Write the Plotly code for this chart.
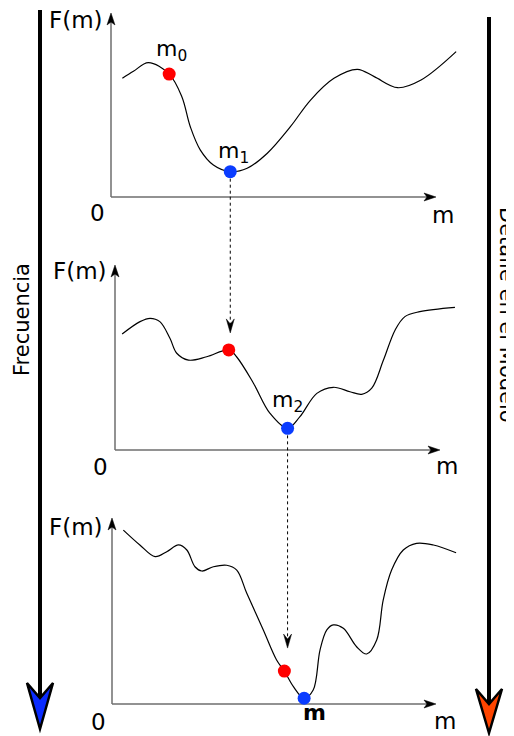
import plotly.graph_objects as go

# The page body keeps an 8px margin, so the figure is drawn 8px smaller and
# all page positions are shifted by that amount.
PAGE_W, PAGE_H = 514, 736
OFF = 8
W, H = PAGE_W - OFF, PAGE_H - OFF

# ---------------- data (schematic units: m in 0..10, F in 0..10) ----------------
M1 = [0.35, 0.69, 1.15, 1.79, 2.18, 2.44, 2.75, 3.15, 3.67, 4.19, 4.81, 5.52, 6.14,
      6.86, 7.58, 8.10, 8.82, 9.54, 10.62]
F1 = [6.45, 6.83, 7.30, 6.68, 5.45, 3.82, 2.55, 1.74, 1.375, 1.56, 2.38, 3.82, 5.27,
      6.45, 6.94, 6.54, 5.94, 6.36, 7.90]

M2 = [0.22, 0.77, 1.08, 1.38, 1.69, 1.90, 2.26, 2.82, 3.50, 3.74, 4.26, 4.77, 5.31,
      5.69, 6.21, 6.72, 7.23, 7.59, 7.90, 8.26, 8.62, 8.92, 9.38, 10.46]
F2 = [6.27, 6.94, 7.12, 6.94, 6.04, 5.23, 4.86, 5.04, 5.41, 5.04, 3.61, 1.98, 1.17,
      1.80, 3.06, 3.39, 3.15, 3.01, 3.34, 4.86, 6.49, 7.21, 7.48, 7.71]

M3 = [0.35, 0.86, 1.33, 1.69, 2.05, 2.31, 2.56, 2.77, 3.13, 3.54, 3.85, 4.16, 4.67,
      5.08, 5.32, 5.60, 5.93, 6.21, 6.42, 6.63, 6.83, 7.14, 7.55, 7.86, 8.17, 8.37,
      8.63, 8.99, 9.40, 9.92, 10.62]
F3 = [9.35, 8.55, 7.92, 8.19, 8.55, 8.28, 7.38, 7.15, 7.38, 7.46, 7.20, 5.95, 3.98,
      2.37, 1.77, 0.93, 0.31, 0.75, 2.90, 3.98, 4.25, 4.07, 3.08, 2.69, 3.44, 5.59,
      7.20, 8.28, 8.64, 8.55, 8.13]

START_M = [1.79, 3.50, 5.32]
START_F = [6.68, 5.41, 1.77]
BEST_M = [3.67, 5.31, 5.93]
BEST_F = [1.375, 1.17, 0.31]

POINT_LABELS = ["m<sub>0</sub>", "m<sub>1</sub>", "m<sub>2</sub>", "<b>m</b>"]
AXIS_Y_LABEL = "F(m)"
AXIS_X_LABEL = "m"
ORIGIN_LABEL = "0"
LEFT_TITLE = "Frecuencia"
RIGHT_TITLE = "Detalle en el Modelo"

CURVES = [(M1, F1), (M2, F2), (M3, F3)]

# ---------------- layout geometry (page pixels) ----------------
PANELS = [
    dict(ox=111, oy=197, sx=32.5, sy=18.4),
    dict(ox=115, oy=450, sx=32.5, sy=18.5),
    dict(ox=112, oy=704, sx=32.4, sy=18.6),
]
X_RANGE = [-0.6, 11.0]
Y_RANGE = [-1.2, 10.2]
AXIS_END = 10
FONT = "DejaVu Sans"


def pxp(x):
    return (x - OFF) / W


def pyp(y):
    return 1 - (y - OFF) / H


def to_page(i, m, f):
    p = PANELS[i]
    return p["ox"] + m * p["sx"], p["oy"] - f * p["sy"]


def path(points):
    pts = [f"{pxp(x):.5f},{pyp(y):.5f}" for x, y in points]
    return "M " + " L ".join(pts) + " Z"


def head(tipx, tipy, dx, dy, length=12, half=4, notch=9):
    # stealth arrow head pointing along unit (dx, dy)
    nx, ny = -dy, dx
    bx, by = tipx - dx * length, tipy - dy * length
    return [(bx + nx * half, by + ny * half), (tipx, tipy),
            (bx - nx * half, by - ny * half), (tipx - dx * notch, tipy - dy * notch)]


fig = go.Figure()
layout_axes = {}
shapes = []
annotations = []

for i, (m, f) in enumerate(CURVES):
    s = "" if i == 0 else str(i + 1)
    p = PANELS[i]
    xd = [pxp(p["ox"] + X_RANGE[0] * p["sx"]), pxp(p["ox"] + X_RANGE[1] * p["sx"])]
    yd = [pyp(p["oy"] - Y_RANGE[0] * p["sy"]), pyp(p["oy"] - Y_RANGE[1] * p["sy"])]
    layout_axes["xaxis" + s] = dict(domain=xd, range=X_RANGE, visible=False,
                                    anchor="y" + s, fixedrange=True)
    layout_axes["yaxis" + s] = dict(domain=yd, range=Y_RANGE, visible=False,
                                    anchor="x" + s, fixedrange=True)

    fig.add_trace(go.Scatter(
        x=m, y=f, mode="lines", xaxis="x" + s, yaxis="y" + s,
        line=dict(color="black", width=1.2, shape="spline", smoothing=1.0),
        hoverinfo="skip", showlegend=False))
    fig.add_trace(go.Scatter(
        x=[START_M[i]], y=[START_F[i]], mode="markers", xaxis="x" + s, yaxis="y" + s,
        marker=dict(color="#ff0000", size=13, line=dict(width=0)),
        hoverinfo="skip", showlegend=False))
    fig.add_trace(go.Scatter(
        x=[BEST_M[i]], y=[BEST_F[i]], mode="markers", xaxis="x" + s, yaxis="y" + s,
        marker=dict(color="#0a3cff", size=13, line=dict(width=0)),
        hoverinfo="skip", showlegend=False))

    # axis lines (gray) in data coordinates
    shapes.append(dict(type="line", xref="x" + s, yref="y" + s, x0=0, y0=0,
                       x1=AXIS_END - 0.2, y1=0,
                       line=dict(color="#6e6e6e", width=1.5), layer="below"))
    shapes.append(dict(type="line", xref="x" + s, yref="y" + s, x0=0, y0=0,
                       x1=0, y1=AXIS_END - 0.3,
                       line=dict(color="#6e6e6e", width=1.5), layer="below"))
    # black arrow heads at the axis ends
    tx, ty = to_page(i, AXIS_END, 0)
    shapes.append(dict(type="path", xref="paper", yref="paper",
                       path=path(head(tx, ty, 1, 0)), fillcolor="black",
                       line=dict(color="black", width=0.5)))
    tx, ty = to_page(i, 0, AXIS_END)
    shapes.append(dict(type="path", xref="paper", yref="paper",
                       path=path(head(tx, ty, 0, -1)), fillcolor="black",
                       line=dict(color="black", width=0.5)))


# ---------------- texts ----------------
def add_text(txt, x, y, size=23, angle=0):
    annotations.append(dict(text=txt, x=pxp(x), y=pyp(y), xref="paper", yref="paper",
                            showarrow=False, xanchor="center", yanchor="middle",
                            textangle=angle,
                            font=dict(family=FONT, size=size, color="black")))


for (fx, fy), (zx, zy), (mx, my) in [
    ((76, 20), (97, 213), (443, 215)),
    ((80, 271), (100, 467), (447, 466)),
    ((76, 527), (98, 722), (445, 721)),
]:
    add_text(AXIS_Y_LABEL, fx, fy)
    add_text(ORIGIN_LABEL, zx, zy)
    add_text(AXIS_X_LABEL, mx, my)

add_text(POINT_LABELS[0], 171, 50, size=22)
add_text(POINT_LABELS[1], 233, 153, size=22)
add_text(POINT_LABELS[2], 287, 401, size=22)
add_text(POINT_LABELS[3], 314, 712, size=22)

add_text(LEFT_TITLE, 22, 320, size=21, angle=-90)
add_text(RIGHT_TITLE, 507, 315, size=21, angle=90)

# ---------------- dashed connectors between panels ----------------
for i, standoff in [(0, 17), (1, 23)]:
    bx, by = to_page(i, BEST_M[i], BEST_F[i])
    rx, ry = to_page(i + 1, START_M[i + 1], START_F[i + 1])
    tip = ry - standoff
    shapes.append(dict(type="line", xref="paper", yref="paper",
                       x0=pxp(bx), y0=pyp(by + 7), x1=pxp(bx), y1=pyp(tip - 8),
                       line=dict(color="black", width=1, dash="3px,3px")))
    shapes.append(dict(type="path", xref="paper", yref="paper",
                       path=path(head(bx, tip, 0, 1, length=14, half=4, notch=9)),
                       fillcolor="black", line=dict(color="black", width=0.5)))

# ---------------- big side arrows ----------------
shapes.append(dict(type="line", xref="paper", yref="paper", x0=pxp(40), y0=pyp(10),
                   x1=pxp(40), y1=pyp(698), line=dict(color="black", width=4)))
shapes.append(dict(type="path", xref="paper", yref="paper",
                   path=path([(27, 683), (40, 729), (53, 683), (40, 698)]),
                   fillcolor="#0a2bff", line=dict(color="black", width=2.5)))

shapes.append(dict(type="line", xref="paper", yref="paper", x0=pxp(489), y0=pyp(17),
                   x1=pxp(489), y1=pyp(703), line=dict(color="black", width=4)))
shapes.append(dict(type="path", xref="paper", yref="paper",
                   path=path([(476, 689), (489, 733), (502, 689), (489, 704)]),
                   fillcolor="#ff4500", line=dict(color="black", width=2.5)))

fig.update_layout(
    width=W, height=H,
    margin=dict(l=0, r=0, t=0, b=0),
    paper_bgcolor="white", plot_bgcolor="rgba(0,0,0,0)",
    showlegend=False,
    shapes=shapes, annotations=annotations,
    font=dict(family=FONT),
    **layout_axes,
)

fig.write_html("out.html", config={"displayModeBar": False})
